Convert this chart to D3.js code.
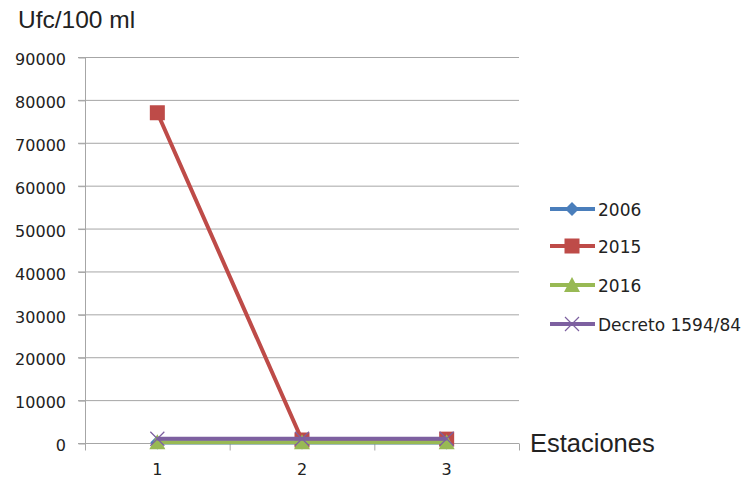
<!DOCTYPE html>
<html lang="en">
<head>
  <meta charset="UTF-8">
  <title>Ufc/100 ml por estación</title>
  <script src="https://d3js.org/d3.v7.min.js"></script>
  <style>
    body { margin: 0; background: #fff; }
    text { font-family: "Liberation Sans", Arial, sans-serif; fill: #222; }
    .lbl { font-family: "DejaVu Sans", Verdana, sans-serif; }
    .grid line { stroke: #a6a6a6; stroke-width: 1; }
  </style>
</head>
<body>
<svg width="746" height="481"></svg>
<script>
  // Data
  const stations = ["1", "2", "3"];
  const yTicks = [0, 10000, 20000, 30000, 40000, 50000, 60000, 70000, 80000, 90000];
  const seriesNames = ["2006", "2015", "2016", "Decreto 1594/84"];
  const v2006 = [100, 100, 100];
  const v2015 = [77000, 700, 900];
  const v2016 = [200, 200, 200];
  const vDecreto = [1000, 1000, 1000];

  const svg = d3.select("svg");
  const plotL = 85, plotR = 519, plotT = 57, plotB = 443;

  const x = d3.scaleBand().domain(stations).range([plotL, plotR]);
  const y = d3.scaleLinear().domain([0, 90000]).range([plotB, plotT]);

  // Horizontal gridlines
  svg.append("g").attr("class", "grid")
    .selectAll("line").data(yTicks).enter().append("line")
      .attr("x1", plotL - 7).attr("x2", plotR)
      .attr("y1", d => y(d) + 0.5).attr("y2", d => y(d) + 0.5);

  // Y axis
  const yAxis = svg.append("g").attr("transform", `translate(${plotL + 0.5},0.5)`)
    .call(d3.axisLeft(y).tickValues(yTicks).tickSize(7).tickPadding(12.5).tickFormat(d3.format("d")));
  yAxis.attr("font-size", null).attr("font-family", null);
  yAxis.select(".domain").attr("stroke", "#a6a6a6").attr("d", `M-7,${plotT}H0V${plotB}`);
  yAxis.selectAll(".tick line").attr("stroke", "#a6a6a6");
  yAxis.selectAll(".tick text").attr("class", "lbl").style("font-size", "16px")
    .attr("fill", "#222").attr("dy", "0.45em");

  // X axis
  const xAxis = svg.append("g").attr("transform", `translate(0,${plotB + 0.5})`);
  xAxis.append("line").attr("x1", plotL).attr("x2", plotR).attr("stroke", "#a6a6a6");
  xAxis.selectAll(".tk").data(d3.range(stations.length + 1)).enter().append("line")
    .attr("x1", i => plotL + i * x.step() + 0.5).attr("x2", i => plotL + i * x.step() + 0.5)
    .attr("y1", 0).attr("y2", 7).attr("stroke", "#a6a6a6");
  xAxis.selectAll("text").data(stations).enter().append("text")
    .attr("class", "lbl")
    .attr("x", d => x(d) + x.bandwidth() / 2).attr("y", 31.5)
    .attr("text-anchor", "middle").style("font-size", "16px").text(d => d);

  // Titles
  svg.append("text").attr("x", 18).attr("y", 28).style("font-size", "24.5px").text("Ufc/100 ml");
  svg.append("text").attr("x", 530).attr("y", 452).style("font-size", "25.5px").text("Estaciones");

  const colors = ["#4a7ebb", "#be4b48", "#98b954", "#7d60a0"];
  const data = [v2006, v2015, v2016, vDecreto];
  const cx = d => x(d) + x.bandwidth() / 2;
  const line = d3.line().x((v, i) => cx(stations[i])).y(v => y(v));

  function marker(g, k, px, py) {
    if (k === 0) {
      g.append("path").attr("d", `M${px},${py - 7}L${px + 7},${py}L${px},${py + 7}L${px - 7},${py}Z`).attr("fill", colors[0]);
    } else if (k === 1) {
      g.append("rect").attr("x", px - 7.5).attr("y", py - 7.5).attr("width", 15).attr("height", 15).attr("fill", colors[1]);
    } else if (k === 2) {
      g.append("path").attr("d", `M${px},${py - 8}L${px + 8},${py + 7}L${px - 8},${py + 7}Z`).attr("fill", colors[2]);
    } else {
      g.append("path").attr("d", `M${px - 7},${py - 7}L${px + 7},${py + 7}M${px + 7},${py - 7}L${px - 7},${py + 7}`)
        .attr("stroke", colors[3]).attr("stroke-width", 1.2).attr("fill", "none");
    }
  }

  // Series lines and markers
  data.forEach((vals, k) => {
    const g = svg.append("g");
    g.append("path").attr("d", line(vals)).attr("fill", "none")
      .attr("stroke", colors[k]).attr("stroke-width", 4);
    vals.forEach((v, i) => marker(g, k, cx(stations[i]), y(v)));
  });

  // Legend
  const legend = svg.append("g");
  const rowY = [209, 246, 285, 324];
  seriesNames.forEach((name, k) => {
    const g = legend.append("g");
    g.append("line").attr("x1", 550).attr("x2", 595).attr("y1", rowY[k]).attr("y2", rowY[k])
      .attr("stroke", colors[k]).attr("stroke-width", 4);
    marker(g, k, 572, rowY[k]);
    g.append("text").attr("class", "lbl").attr("x", 598).attr("y", rowY[k] + 6.5)
      .style("font-size", "17px").text(name);
  });
</script>
</body>
</html>
